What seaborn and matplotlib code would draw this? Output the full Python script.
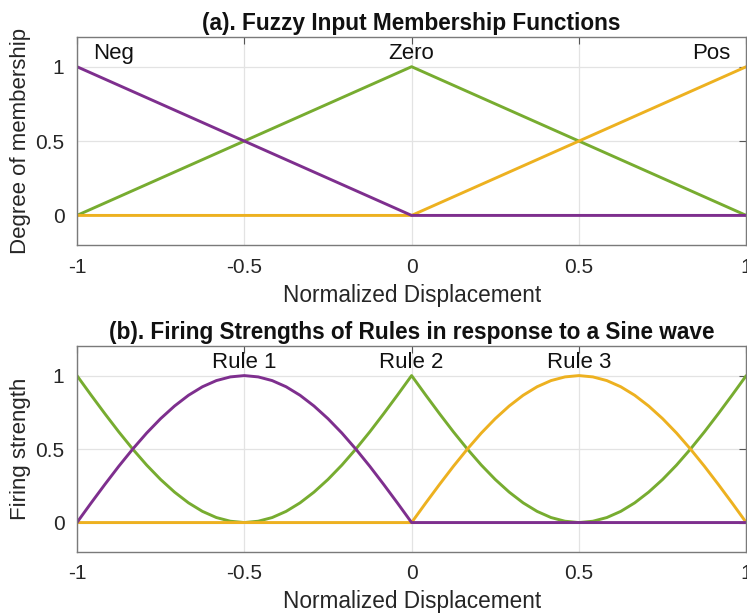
import matplotlib
matplotlib.use("Agg")
import matplotlib.pyplot as plt
import seaborn as sns
import pandas as pd

# ---- membership functions (triangles) ----
mf_x = [-1.0, 0.0, 1.0]
neg_mu = [1.0, 0.0, 0.0]
zero_mu = [0.0, 1.0, 0.0]
pos_mu = [0.0, 0.0, 1.0]
mf_names = ["Neg", "Zero", "Pos"]
mf_label_x = [-0.89, 0.0, 0.895]

# ---- firing strengths for a sine input, sampled every 1/24 ----
disp = [i / 24 - 1 for i in range(49)]
rule1 = [0, 0.131, 0.259, 0.383, 0.5, 0.609, 0.707, 0.793, 0.866, 0.924, 0.966, 0.991,
         1, 0.991, 0.966, 0.924, 0.866, 0.793, 0.707, 0.609, 0.5, 0.383, 0.259, 0.131,
         0, 0, 0, 0, 0, 0, 0, 0, 0, 0, 0, 0,
         0, 0, 0, 0, 0, 0, 0, 0, 0, 0, 0, 0, 0]
rule2 = [1, 0.869, 0.741, 0.617, 0.5, 0.391, 0.293, 0.207, 0.134, 0.076, 0.034, 0.009,
         0, 0.009, 0.034, 0.076, 0.134, 0.207, 0.293, 0.391, 0.5, 0.617, 0.741, 0.869,
         1, 0.869, 0.741, 0.617, 0.5, 0.391, 0.293, 0.207, 0.134, 0.076, 0.034, 0.009,
         0, 0.009, 0.034, 0.076, 0.134, 0.207, 0.293, 0.391, 0.5, 0.617, 0.741, 0.869, 1]
rule3 = [0, 0, 0, 0, 0, 0, 0, 0, 0, 0, 0, 0,
         0, 0, 0, 0, 0, 0, 0, 0, 0, 0, 0, 0,
         0, 0.131, 0.259, 0.383, 0.5, 0.609, 0.707, 0.793, 0.866, 0.924, 0.966, 0.991,
         1, 0.991, 0.966, 0.924, 0.866, 0.793, 0.707, 0.609, 0.5, 0.383, 0.259, 0.131, 0]
rule_names = ["Rule 1", "Rule 2", "Rule 3"]
rule_label_x = [-0.5, 0.0, 0.5]

x_ticks = [-1, -0.5, 0, 0.5, 1]
x_tick_labels = ["-1", "-0.5", "0", "0.5", "1"]
y_ticks = [0, 0.5, 1]
y_tick_labels = ["0", "0.5", "1"]

PURPLE = "#7E2F8E"
GREEN = "#77AC30"
YELLOW = "#EDB120"

sns.set_style("white")
plt.rcParams["font.family"] = ["Liberation Sans", "DejaVu Sans"]

fig = plt.figure(figsize=(7.47, 6.16), dpi=100)
ax1 = fig.add_axes([0.103, 0.602, 0.896, 0.338])
ax2 = fig.add_axes([0.103, 0.104, 0.896, 0.334])


def style_axes(ax, title, ylabel):
    ax.set_xlim(-1, 1)
    ax.set_ylim(-0.2, 1.2)
    ax.set_xticks(x_ticks)
    ax.set_xticklabels(x_tick_labels)
    ax.set_yticks(y_ticks)
    ax.set_yticklabels(y_tick_labels)
    ax.grid(True, color="#e3e3e3", linewidth=0.9)
    ax.set_axisbelow(True)
    ax.tick_params(direction="in", length=5, width=0.8, color="#555555",
                   labelsize=15, labelcolor="#262626", top=True, right=True,
                   pad=9)
    for s in ax.spines.values():
        s.set_color("#7a7a7a")
        s.set_linewidth(1.0)
    ax.set_title(title, fontsize=16.3, fontweight="bold", color="#111111", pad=5)
    ax.set_xlabel("Normalized Displacement", fontsize=16.3, color="#262626", labelpad=5)
    ax.set_ylabel(ylabel, fontsize=16, color="#262626", labelpad=3)


# (a) membership functions
for yv, col in [(zero_mu, GREEN), (pos_mu, YELLOW), (neg_mu, PURPLE)]:
    sns.lineplot(data=pd.DataFrame({"x": mf_x, "y": yv}), x="x", y="y",
                 color=col, linewidth=2.1, ax=ax1, sort=False)
for name, lx in zip(mf_names, mf_label_x):
    ax1.text(lx, 1.09, name, ha="center", va="center", fontsize=16, color="#111111")
style_axes(ax1, "(a). Fuzzy Input Membership Functions", "Degree of membership")

# (b) rule firing strengths
for yv, col in [(rule2, GREEN), (rule3, YELLOW), (rule1, PURPLE)]:
    sns.lineplot(data=pd.DataFrame({"x": disp, "y": yv}), x="x", y="y",
                 color=col, linewidth=2.1, ax=ax2, sort=False)
for name, lx in zip(rule_names, rule_label_x):
    ax2.text(lx, 1.09, name, ha="center", va="center", fontsize=16, color="#111111")
style_axes(ax2, "(b). Firing Strengths of Rules in response to a Sine wave", "Firing strength")

fig.savefig("out.png", dpi=100)
